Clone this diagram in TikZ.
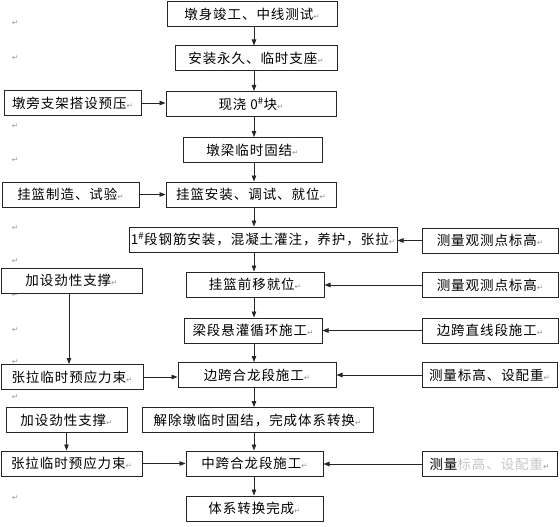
\documentclass[tikz,border=0pt]{standalone}
\usepackage{fontspec}
\usepackage{xcolor}
\usepackage{tikz}
\usetikzlibrary{arrows.meta}
\newfontfamily\cjk[LetterSpace=7]{Noto Sans CJK SC}
\newfontfamily\markfont{DejaVu Sans}
\newcommand{\retmark}{{\markfont\color{gray!85}\fontsize{7.5}{7.5}\selectfont ↵}}
\newcommand{\sh}{\textsuperscript{\#}}

\begin{document}
\begin{tikzpicture}[x=1pt, y=-1pt,
    font=\cjk\fontsize{13.5}{15}\selectfont,
    box/.style={draw=black!85, line width=1pt, fill=white, inner sep=0pt,
                minimum height=25pt},
    arr/.style={-{Triangle[length=6pt,width=4.5pt]}, line width=0.8pt, black!85},
    pmark/.style={inner sep=0pt}]
  \useasboundingbox (0,0) rectangle (560,527);
  % spine of the main column
  \coordinate (spine) at (254,0);
  % --- stray paragraph marks in the left margin ---
  \foreach \y [count=\i] in {23,58,126,160,228,261,295,330,362,397,498}
    \node[pmark] (m\i) at (15,\y) {\retmark};
  % ============= main column =============
  \node[box, minimum width=170pt] (n1)  at (252,14.5)  {墩身竣工、中线测试\retmark};
  \node[box, minimum width=162pt] (n2)  at (256,58.5)  {安装永久、临时支座\retmark};
  \node[box, minimum width=170pt] (n3)  at (251,104)   {现浇 0\sh 块\retmark};
  \node[box, minimum width=139pt] (n4)  at (252.5,150) {墩梁临时固结\retmark};
  \node[box, minimum width=170pt] (n5)  at (251,194.5) {挂篮安装、调试、就位\retmark};
  \node[box, minimum width=268pt] (n6)  at (263,239.5) {1\sh 段钢筋安装，混凝土灌注，养护，张拉\retmark};
  \node[box, minimum width=138pt] (n7)  at (255,284.5) {挂篮前移就位\retmark};
  \node[box, minimum width=138pt] (n8)  at (253,330.5) {梁段悬灌循环施工\retmark};
  \node[box, minimum width=158pt] (n9)  at (257,375)   {边跨合龙段施工\retmark};
  \node[box, minimum width=231pt] (n10) at (257.5,420) {解除墩临时固结，完成体系转换\retmark};
  \node[box, minimum width=137pt] (n11) at (254.5,463.5) {中跨合龙段施工\retmark};
  \node[box, minimum width=137pt] (n12) at (254.5,508.5) {体系转换完成\retmark};
  % ============= left column =============
  \node[box, minimum width=137pt] (l1) at (72.5,103)  {墩旁支架搭设预压\retmark};
  \node[box, minimum width=137pt] (l2) at (70.5,194.5) {挂篮制造、试验\retmark};
  \node[box, minimum width=141pt] (l3) at (71.5,280.5) {加设劲性支撑\retmark};
  \node[box, minimum width=142pt] (l4) at (72,377)    {张拉临时预应力束\retmark};
  \node[box, minimum width=121pt] (l5) at (66.5,420)  {加设劲性支撑\retmark};
  \node[box, minimum width=141pt] (l6) at (71.5,463.5) {张拉临时预应力束\retmark};
  % ============= right column =============
  \node[box, minimum width=136pt] (r1) at (490,240.5) {测量观测点标高\retmark};
  \node[box, minimum width=136pt] (r2) at (490,285)   {测量观测点标高\retmark};
  \node[box, minimum width=136pt] (r3) at (490,330.5) {边跨直线段施工\retmark};
  \node[box, minimum width=135pt] (r4) at (489.5,375) {测量标高、设配重\retmark};
  \node[box, minimum width=135pt] (r5) at (489.5,464)
    {测量\textcolor{gray!45}{标高、设配重}\retmark};
  % --- main flow ---
  \foreach \a/\b in {n1/n2,n2/n3,n3/n4,n4/n5,n5/n6,n6/n7,n7/n8,n8/n9,n9/n10,n10/n11,n11/n12}
    \draw[arr] (\a.south -| spine) -- (\b.north -| spine);
  % --- side inputs from the left ---
  \draw[arr] (l1.east) -- (l1.east -| n3.west);
  \draw[arr] (l2.east) -- (l2.east -| n5.west);
  \draw[arr] (l4.east) -- (l4.east -| n9.west);
  \draw[arr] (l6.east) -- (l6.east -| n11.west);
  \draw[arr] ([xshift=-2.5pt]l3.south) -- ([xshift=-2.5pt]l3.south |- l4.north);
  \draw[arr] (l5.south) -- (l5.south |- l6.north);
  % --- side inputs from the right ---
  \draw[arr] (r1.west) -- (r1.west -| n6.east);
  \draw[arr] (r2.west) -- (r2.west -| n7.east);
  \draw[arr] (r3.west) -- (r3.west -| n8.east);
  \draw[arr] (r4.west) -- (r4.west -| n9.east);
  \draw[arr] (r5.west) -- (r5.west -| n11.east);
\end{tikzpicture}
\end{document}
